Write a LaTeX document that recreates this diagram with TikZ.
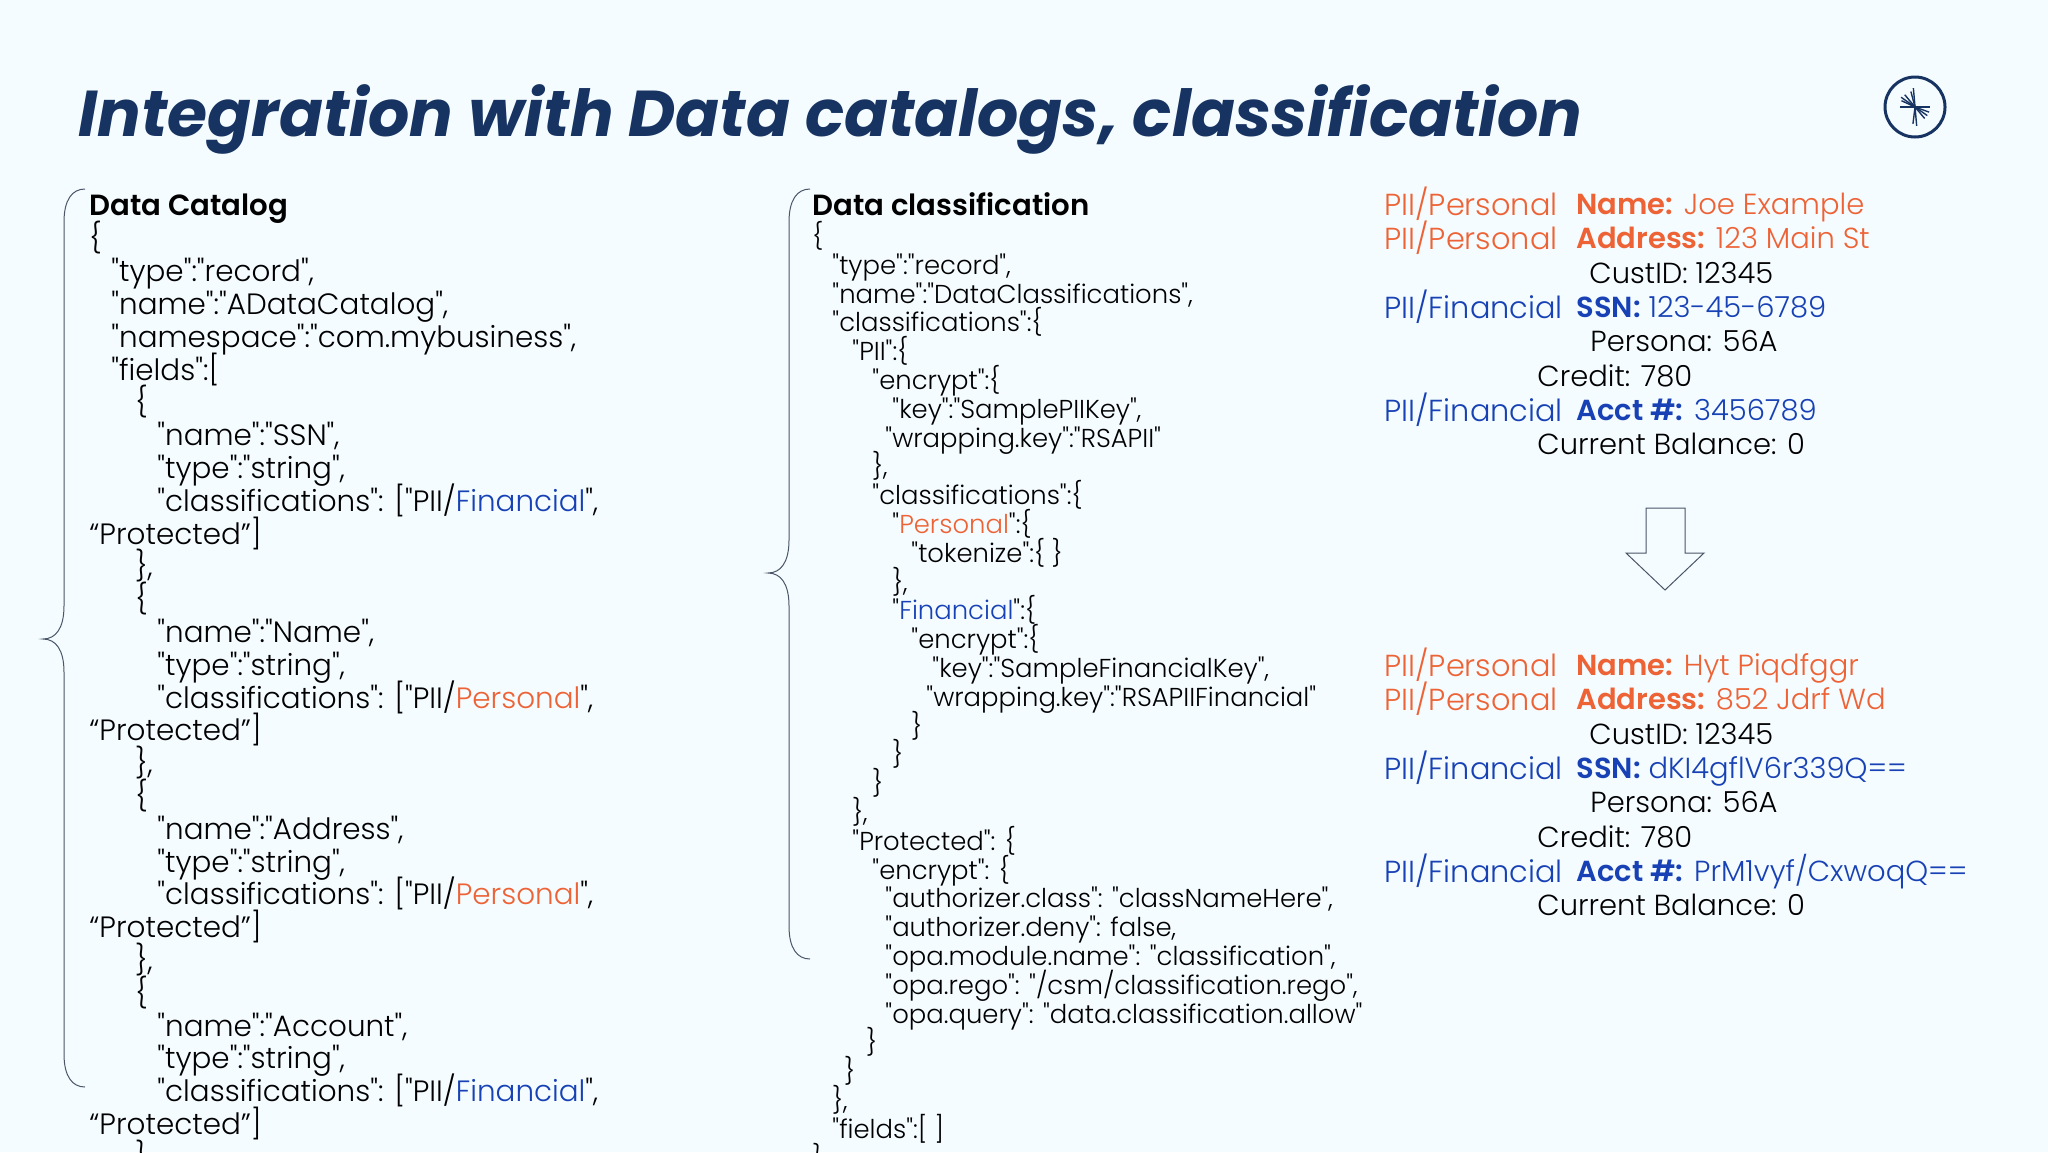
\documentclass[tikz,border=0pt]{standalone}
\usepackage{fontspec}
\setmainfont{Poppins Light}[Ligatures=TeXOff,BoldFont=Poppins SemiBold,BoldItalicFont=Poppins Bold Italic]
\definecolor{pagebg}{HTML}{F4FCFF}
\definecolor{navy}{HTML}{173361}
\definecolor{persorange}{HTML}{EE6336}
\definecolor{finblue}{HTML}{1741B4}
\definecolor{bracegrey}{HTML}{4A5568}
\newcommand{\ind}[1]{\hspace*{#1pt}}
\newcommand{\pers}[1]{\textcolor{persorange}{#1}}
\newcommand{\finc}[1]{\textcolor{finblue}{#1}}
\newcommand{\fixedlines}{\lineskiplimit=-100pt }
\tikzset{
  slidetitle/.style={anchor=base west,inner sep=0pt,text=navy,font=\fontsize{32.4}{36}\selectfont\bfseries\itshape},
  headtext/.style={anchor=base west,inner sep=0pt,font=\fontsize{14.6}{16.4}\selectfont\bfseries},
  catalogtext/.style={anchor=north west,inner sep=0pt,align=left,font=\fontsize{14.7}{16.4}\selectfont\fixedlines},
  classtext/.style={anchor=north west,inner sep=0pt,align=left,font=\fontsize{12.95}{14.4}\selectfont\fixedlines},
  rowtext/.style={anchor=base west,inner sep=0pt,font=\fontsize{14.5}{16.4}\selectfont},
  rowlabel/.style={rowtext,font=\fontsize{15.2}{16.4}\selectfont},
  thinline/.style={draw=bracegrey,line width=.5pt},
}
\begin{document}
\begin{tikzpicture}[x=.5pt,y=-.5pt]
  \clip (0,0) rectangle (2048,1152);
  \fill[pagebg] (0,0) rectangle (2048,1152);
  \node[slidetitle] (title) at (78,136) {Integration with Data catalogs, classification};
  % logo
  \node[circle,draw=navy,line width=1.5pt,minimum size=30pt,inner sep=0pt] (logo) at (1915,107) {};
  \foreach \a/\r in {0/15,180/15,-95/19,-105/16,-130/16,-145/17,-155/15,20/15,35/15,50/15,85/19,97/17}
    \draw[navy,line width=.7pt] (logo.center) -- ++(\a:\r);
  % left column
  \node[headtext] (cathead) at (89,215) {Data Catalog};
  \node[catalogtext] (catalog) at (89,221) {%
    \{\\
    \ind{11}"type":"record",\\
    \ind{11}"name":"ADataCatalog",\\
    \ind{11}"namespace":"com.mybusiness",\\
    \ind{11}"fields":[\\
    \ind{23}\{\\
    \ind{34}"name":"SSN",\\
    \ind{34}"type":"string",\\
    \ind{34}"classifications": ["PII/\finc{Financial}",\\
    “Protected”]\\
    \ind{23}\},\\
    \ind{23}\{\\
    \ind{34}"name":"Name",\\
    \ind{34}"type":"string",\\
    \ind{34}"classifications": ["PII/\pers{Personal}",\\
    “Protected”]\\
    \ind{23}\},\\
    \ind{23}\{\\
    \ind{34}"name":"Address",\\
    \ind{34}"type":"string",\\
    \ind{34}"classifications": ["PII/\pers{Personal}",\\
    “Protected”]\\
    \ind{23}\},\\
    \ind{23}\{\\
    \ind{34}"name":"Account",\\
    \ind{34}"type":"string",\\
    \ind{34}"classifications": ["PII/\finc{Financial}",\\
    “Protected”]\\
    \ind{23}\},};
  \draw[thinline] (85,189) .. controls (72,189) and (64,200) .. (64,222) -- (64,606)
    .. controls (64,628) and (56,639) .. (43,639) .. controls (56,639) and (64,650) .. (64,672)
    -- (64,1054) .. controls (64,1076) and (72,1087) .. (85,1087);
  % middle column
  \node[headtext] (clshead) at (812,215) {Data classification};
  \node[classtext] (classif) at (812,221) {%
    \{\\
    \ind{10}"type":"record",\\
    \ind{10}"name":"DataClassifications",\\
    \ind{10}"classifications":\{\\
    \ind{20}"PII":\{\\
    \ind{30}"encrypt":\{\\
    \ind{40}"key":"SamplePIIKey",\\
    \ind{36.5}"wrapping.key":"RSAPII"\\
    \ind{30}\},\\
    \ind{30}"classifications":\{\\
    \ind{40}"\pers{Personal}":\{\\
    \ind{49.5}"tokenize":\{ \}\\
    \ind{40}\},\\
    \ind{40}"\finc{Financial}":\{\\
    \ind{49.5}"encrypt":\{\\
    \ind{60}"key":"SampleFinancialKey",\\
    \ind{57}"wrapping.key":"RSAPIIFinancial"\\
    \ind{49.5}\}\\
    \ind{40}\}\\
    \ind{30}\}\\
    \ind{20}\},\\
    \ind{20}"Protected": \{\\
    \ind{30}"encrypt": \{\\
    \ind{36.5}"authorizer.class": "classNameHere",\\
    \ind{36.5}"authorizer.deny": false,\\
    \ind{36.5}"opa.module.name": "classification",\\
    \ind{36.5}"opa.rego": "/csm/classification.rego",\\
    \ind{36.5}"opa.query": "data.classification.allow"\\
    \ind{27}\}\\
    \ind{16}\}\\
    \ind{10}\},\\
    \ind{10}"fields":[ ]\\
    \}};
  \draw[thinline] (810,189) .. controls (797,189) and (789,200) .. (789,222) -- (789,540)
    .. controls (789,562) and (781,573) .. (768,573) .. controls (781,573) and (789,584) .. (789,606)
    -- (789,926) .. controls (789,948) and (797,959) .. (810,959);
  % right column, clear and masked values
  \foreach \blk/\dy/\nme/\adr/\ssn/\acc in {top/0/Joe Example/123 Main St/123-45-6789/3456789,
      bot/461/Hyt Piqdfggr/852 Jdrf Wd/dKI4gflV6r339Q==/{PrM1vyf/CxwoqQ==}} {
    \node[rowlabel,text=persorange] (\blk-lname) at (1384,215+\dy) {PII/Personal};
    \node[rowtext,text=persorange] (\blk-name) at (1576,214+\dy) {\textbf{Name:} \nme};
    \node[rowlabel,text=persorange] (\blk-laddr) at (1384,249+\dy) {PII/Personal};
    \node[rowtext,text=persorange] (\blk-addr) at (1576,248+\dy) {\textbf{Address:} \adr};
    \node[rowtext] (\blk-cust) at (1589,283+\dy) {CustID: 12345};
    \node[rowlabel,text=finblue] (\blk-lssn) at (1384,318+\dy) {PII/Financial};
    \node[rowtext,text=finblue] (\blk-ssn) at (1576,317+\dy) {\textbf{SSN:} \ssn};
    \node[rowtext] (\blk-pers) at (1590,351+\dy) {Persona: 56A};
    \node[rowtext] (\blk-cred) at (1537,386+\dy) {Credit: 780};
    \node[rowlabel,text=finblue] (\blk-lacct) at (1384,421+\dy) {PII/Financial};
    \node[rowtext,text=finblue] (\blk-acct) at (1576,420+\dy) {\textbf{Acct \#:} \acc};
    \node[rowtext] (\blk-bal) at (1537,454+\dy) {Current Balance: 0};
  }
  \draw[thinline,line join=miter] (1646,508) -- (1685,508) -- (1685,553) -- (1704,553) -- (1665,590)
    -- (1626,553) -- (1646,553) -- cycle;
\end{tikzpicture}
\end{document}
